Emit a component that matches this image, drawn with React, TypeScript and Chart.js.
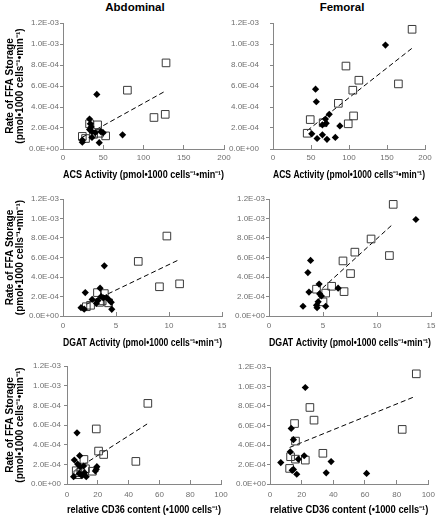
import React, { useEffect, useRef } from "react";
import { Chart, registerables } from "chart.js";

Chart.register(...registerables);

// ---------- tick values ----------
const rateTicks = [0, 2e-4, 4e-4, 6e-4, 8e-4, 1.0e-3, 1.2e-3];
const acsTicks = [0, 50, 100, 150, 200];
const dgatTicks = [0, 5, 10, 15];
const cd36Ticks = [0, 20, 40, 60, 80, 100];

// ---------- axis titles ----------
const rateTitle = ["Rate of FFA Storage", "(pmol\u20221000 cells\u207B\u00B9\u2022min\u207B\u00B9)"];
const acsTitle = "ACS Activity (pmol\u20221000 cells\u207B\u00B9\u2022min\u207B\u00B9)";
const dgatTitle = "DGAT Activity (pmol\u20221000 cells\u207B\u00B9\u2022min\u207B\u00B9)";
const cd36Title = "relative CD36 content (\u20221000 cells\u207B\u00B9)";
const columnTitles = ["Abdominal", "Femoral"];

// ---------- Abdominal / ACS ----------
const abdAcsSqX = [128, 80, 113, 127, 43, 33, 53, 24, 28, 38, 45];
const abdAcsSqY = [8.2e-4, 5.6e-4, 3.0e-4, 3.3e-4, 2.3e-4, 2.4e-4, 1.25e-4, 1.2e-4, 1.0e-4, 1.4e-4, 1.5e-4];
const abdAcsDiaX = [42, 33, 34, 35, 33, 36, 40, 47, 50, 74, 36, 24, 24, 45];
const abdAcsDiaY = [5.2e-4, 2.85e-4, 2.4e-4, 2.1e-4, 1.85e-4, 1.65e-4, 1.55e-4, 1.65e-4, 1.55e-4, 1.35e-4, 1.1e-4, 0.85e-4, 0.65e-4, 0.6e-4];
const abdAcsFitX = [24, 128];
const abdAcsFitY = [1.12e-4, 5.55e-4];

// ---------- Femoral / ACS ----------
const femAcsSqX = [183, 96, 113, 105, 165, 86, 106, 99, 49, 66, 45];
const femAcsSqY = [11.4e-4, 7.9e-4, 6.55e-4, 5.6e-4, 6.2e-4, 4.35e-4, 3.15e-4, 2.4e-4, 2.8e-4, 2.5e-4, 1.5e-4];
const femAcsDiaX = [148, 56, 57, 74, 69, 70, 65, 88, 51, 65, 58, 71, 82];
const femAcsDiaY = [9.9e-4, 5.7e-4, 4.5e-4, 3.3e-4, 2.85e-4, 2.45e-4, 2.3e-4, 2.2e-4, 1.45e-4, 1.35e-4, 1.0e-4, 0.92e-4, 1.1e-4];
const femAcsFitX = [45, 183];
const femAcsFitY = [1.75e-4, 9.6e-4];

// ---------- Abdominal / DGAT ----------
const abdDgatSqX = [9.8, 7.1, 9.1, 11.0, 3.25, 3.9, 2.2, 3.45, 4.3, 2.6, 3.7];
const abdDgatSqY = [8.2e-4, 5.6e-4, 3.0e-4, 3.3e-4, 2.4e-4, 2.3e-4, 0.95e-4, 1.4e-4, 1.35e-4, 1.1e-4, 1.55e-4];
const abdDgatDiaX = [3.9, 2.1, 3.5, 3.6, 2.75, 3.15, 3.8, 1.7, 2.0, 4.55, 4.6, 4.1, 4.35, 3.3];
const abdDgatDiaY = [5.15e-4, 2.4e-4, 2.85e-4, 2.0e-4, 1.7e-4, 1.3e-4, 1.85e-4, 0.85e-4, 0.7e-4, 1.4e-4, 0.68e-4, 1.9e-4, 1.65e-4, 1.6e-4];
const abdDgatFitX = [2.2, 11.0];
const abdDgatFitY = [1.2e-4, 5.8e-4];

// ---------- Femoral / DGAT ----------
const femDgatSqX = [11.5, 9.45, 7.95, 6.85, 11.15, 7.55, 5.8, 6.95, 4.4, 5.25, 5.0];
const femDgatSqY = [11.45e-4, 7.9e-4, 6.55e-4, 5.65e-4, 6.2e-4, 4.35e-4, 3.05e-4, 2.5e-4, 2.75e-4, 2.35e-4, 1.45e-4];
const femDgatDiaX = [13.6, 3.85, 3.6, 3.7, 4.64, 6.4, 4.7, 4.85, 4.55, 4.4, 3.15, 4.45, 5.25];
const femDgatDiaY = [9.9e-4, 5.7e-4, 4.45e-4, 2.45e-4, 3.27e-4, 2.85e-4, 2.25e-4, 2.05e-4, 1.45e-4, 1.1e-4, 1.0e-4, 0.85e-4, 1.0e-4];
const femDgatFitX = [4.4, 11.5];
const femDgatFitY = [2.3e-4, 9.45e-4];

// ---------- Abdominal / CD36 ----------
const abdCd36SqX = [52.5, 19, 20.5, 23.8, 44.7, 11, 16.5, 6, 7, 12, 9];
const abdCd36SqY = [8.2e-4, 5.6e-4, 3.35e-4, 3.0e-4, 2.3e-4, 2.5e-4, 1.3e-4, 1.35e-4, 0.95e-4, 1.55e-4, 1.15e-4];
const abdCd36DiaX = [6.5, 8.2, 4.75, 6.9, 8.6, 10.8, 19.4, 19, 18.4, 4.3, 9.7, 8, 12.5, 11.4];
const abdCd36DiaY = [5.2e-4, 2.88e-4, 2.44e-4, 2.03e-4, 1.76e-4, 1.83e-4, 1.76e-4, 1.5e-4, 1.32e-4, 0.75e-4, 0.85e-4, 1.08e-4, 0.75e-4, 1.15e-4];
const abdCd36FitX = [5.5, 52.5];
const abdCd36FitY = [1.45e-4, 6.15e-4];

// ---------- Femoral / CD36 ----------
const femCd36SqX = [92.4, 83.5, 25.2, 27.8, 15.5, 16.1, 33.4, 13, 16.1, 22.3, 12.4];
const femCd36SqY = [11.3e-4, 5.6e-4, 7.85e-4, 6.55e-4, 6.2e-4, 4.4e-4, 3.15e-4, 2.8e-4, 2.55e-4, 2.45e-4, 1.6e-4];
const femCd36DiaX = [22.3, 13.4, 14.8, 12.8, 21.6, 17.9, 6.8, 38.6, 14.8, 14, 16.9, 35.5, 61];
const femCd36DiaY = [9.9e-4, 5.7e-4, 4.55e-4, 3.3e-4, 2.9e-4, 2.55e-4, 2.2e-4, 2.3e-4, 1.5e-4, 1.4e-4, 1.0e-4, 1.15e-4, 1.08e-4];
const femCd36FitX = [12.4, 92];
const femCd36FitY = [3.75e-4, 9.0e-4];

// ---------- helpers ----------
const TICK_FONT = "'Liberation Sans Narrow', 'Liberation Sans', Arial, sans-serif";
const TITLE_FONT = "'Liberation Sans', Arial, sans-serif";

function sci(v: number): string {
  if (Math.abs(v) < 1e-12) return "0.0E+00";
  const [m, e] = v.toExponential(1).split("e");
  const n = parseInt(e, 10);
  return `${m}E${n < 0 ? "-" : "+"}${String(Math.abs(n)).padStart(2, "0")}`;
}

function zip(xs: number[], ys: number[]) {
  return xs.map((x, i) => ({ x, y: ys[i] }));
}

type PanelDef = {
  id: string;
  left: number; top: number; width: number; height: number; // canvas box (page px)
  area: { L: number; T: number; R: number; B: number }; // plot area (page px)
  xMax: number; xTicks: number[]; xTitle: string; yTitle: boolean;
  xLabelPad: number; yLabelPad: number;
  sqX: number[]; sqY: number[]; diaX: number[]; diaY: number[]; fitX: number[]; fitY: number[];
};

const COL_L = { left: 0, width: 240 };
const COL_R = { left: 222, width: 223 };
const ROW_T = { top: 0, height: 181 };
const ROW_M = { top: 181, height: 168 };
const ROW_B = { top: 349, height: 167 };

const panels: PanelDef[] = [
  { id: "abdAcs", ...COL_L, ...ROW_T, area: { L: 63, T: 23, R: 224, B: 149 }, xMax: 200, xTicks: acsTicks, xTitle: acsTitle, yTitle: true, xLabelPad: 8, yLabelPad: 1,
    sqX: abdAcsSqX, sqY: abdAcsSqY, diaX: abdAcsDiaX, diaY: abdAcsDiaY, fitX: abdAcsFitX, fitY: abdAcsFitY },
  { id: "femAcs", ...COL_R, ...ROW_T, area: { L: 273, T: 23, R: 425, B: 149 }, xMax: 200, xTicks: acsTicks, xTitle: acsTitle, yTitle: false, xLabelPad: 8, yLabelPad: 11,
    sqX: femAcsSqX, sqY: femAcsSqY, diaX: femAcsDiaX, diaY: femAcsDiaY, fitX: femAcsFitX, fitY: femAcsFitY },
  { id: "abdDgat", ...COL_L, ...ROW_M, area: { L: 63, T: 199, R: 222, B: 316 }, xMax: 15, xTicks: dgatTicks, xTitle: dgatTitle, yTitle: true, xLabelPad: 9, yLabelPad: 1,
    sqX: abdDgatSqX, sqY: abdDgatSqY, diaX: abdDgatDiaX, diaY: abdDgatDiaY, fitX: abdDgatFitX, fitY: abdDgatFitY },
  { id: "femDgat", ...COL_R, ...ROW_M, area: { L: 269, T: 199, R: 431, B: 316 }, xMax: 15, xTicks: dgatTicks, xTitle: dgatTitle, yTitle: false, xLabelPad: 9, yLabelPad: 1,
    sqX: femDgatSqX, sqY: femDgatSqY, diaX: femDgatDiaX, diaY: femDgatDiaY, fitX: femDgatFitX, fitY: femDgatFitY },
  { id: "abdCd36", ...COL_L, ...ROW_B, area: { L: 67, T: 366, R: 221, B: 484 }, xMax: 100, xTicks: cd36Ticks, xTitle: cd36Title, yTitle: true, xLabelPad: 10, yLabelPad: 3,
    sqX: abdCd36SqX, sqY: abdCd36SqY, diaX: abdCd36DiaX, diaY: abdCd36DiaY, fitX: abdCd36FitX, fitY: abdCd36FitY },
  { id: "femCd36", ...COL_R, ...ROW_B, area: { L: 270, T: 367, R: 432, B: 484 }, xMax: 100, xTicks: cd36Ticks, xTitle: cd36Title, yTitle: false, xLabelPad: 10, yLabelPad: 1,
    sqX: femCd36SqX, sqY: femCd36SqY, diaX: femCd36DiaX, diaY: femCd36DiaY, fitX: femCd36FitX, fitY: femCd36FitY },
];

const AXIS_COLOR = "#868686";
const TICK_COLOR = "#6f6f6f";

function buildChart(canvas: HTMLCanvasElement, p: PanelDef) {
  const Lc = p.area.L - p.left;
  const Tc = p.area.T - p.top;
  const Rc = p.area.R - p.left;
  const Bc = p.area.B - p.top;
  return new Chart(canvas, {
    type: "scatter",
    data: {
      datasets: [
        {
          label: "diamonds",
          data: zip(p.diaX, p.diaY),
          pointStyle: "rectRot",
          pointRadius: 3.6,
          pointHoverRadius: 3.6,
          backgroundColor: "#000000",
          borderColor: "#000000",
          borderWidth: 0,
        },
        {
          label: "squares",
          data: zip(p.sqX, p.sqY),
          pointStyle: "rect",
          pointRadius: 5.4,
          pointHoverRadius: 5.4,
          backgroundColor: "rgba(255,255,255,0)",
          borderColor: "#3a3a3a",
          borderWidth: 1,
        },
        {
          label: "fit",
          data: zip(p.fitX, p.fitY),
          showLine: true,
          pointRadius: 0,
          pointHoverRadius: 0,
          borderColor: "#000000",
          borderWidth: 1,
          borderDash: [5, 3],
          fill: false,
        },
      ],
    } as any,
    options: {
      responsive: false,
      maintainAspectRatio: false,
      animation: false,
      events: [],
      layout: {
        autoPadding: false,
        padding: { left: 0, top: Tc, right: p.width - Rc, bottom: 0 },
      },
      plugins: {
        legend: { display: false },
        tooltip: { enabled: false },
        title: { display: false },
      },
      scales: {
        x: {
          type: "linear",
          position: "bottom",
          min: 0,
          max: p.xMax,
          afterBuildTicks: (s: any) => {
            s.ticks = p.xTicks.map((v) => ({ value: v }));
          },
          afterFit: (s: any) => {
            s.height = p.height - Bc;
          },
          border: { display: true, color: AXIS_COLOR, width: 1 },
          grid: { display: true, drawOnChartArea: false, drawTicks: true, tickLength: -4, color: AXIS_COLOR, lineWidth: 1 },
          ticks: {
            autoSkip: false,
            maxRotation: 0,
            padding: p.xLabelPad,
            color: TICK_COLOR,
            font: { family: TICK_FONT, size: 8, lineHeight: 1.2 },
          },
          title: {
            display: true,
            text: p.xTitle,
            color: "#000000",
            padding: { top: 0, bottom: 0 },
            font: { family: TITLE_FONT, size: 10, weight: "bold", lineHeight: 1.2 },
          },
        },
        y: {
          type: "linear",
          position: "left",
          min: 0,
          max: 1.2e-3,
          afterBuildTicks: (s: any) => {
            s.ticks = rateTicks.map((v) => ({ value: v }));
          },
          afterFit: (s: any) => {
            s.width = Lc;
          },
          border: { display: true, color: AXIS_COLOR, width: 1 },
          grid: { display: true, drawOnChartArea: false, drawTicks: true, tickLength: 3, color: AXIS_COLOR, lineWidth: 1 },
          ticks: {
            autoSkip: false,
            padding: p.yLabelPad,
            color: TICK_COLOR,
            font: { family: TICK_FONT, size: 8, lineHeight: 1.2 },
            callback: (v: any) => sci(Number(v)),
          },
          title: {
            display: p.yTitle,
            text: rateTitle,
            color: "#000000",
            padding: { top: 5, bottom: 0 },
            font: { family: TITLE_FONT, size: 10, weight: "bold", lineHeight: 1.0 },
          },
        },
      },
    } as any,
  });
}

function Panel({ p }: { p: PanelDef }) {
  const ref = useRef<HTMLCanvasElement | null>(null);
  useEffect(() => {
    if (!ref.current) return;
    const chart = buildChart(ref.current, p);
    return () => chart.destroy();
  }, [p]);
  return (
    <canvas
      ref={ref}
      width={p.width}
      height={p.height}
      style={{ position: "absolute", left: p.left, top: p.top, width: p.width, height: p.height }}
    />
  );
}

function headerStyle(cx: number): React.CSSProperties {
  return {
    position: "absolute",
    left: cx - 60,
    top: 0,
    width: 120,
    textAlign: "center",
    fontFamily: TITLE_FONT,
    fontWeight: "bold",
    fontSize: "11.5px",
    lineHeight: "14px",
    color: "#000",
  };
}

export default function App() {
  return (
    <div style={{ position: "absolute", left: 0, top: 0, width: 445, height: 516, background: "#ffffff", overflow: "hidden" }}>
      <div style={headerStyle(135)}>{columnTitles[0]}</div>
      <div style={headerStyle(342)}>{columnTitles[1]}</div>
      {panels.map((p) => (
        <Panel key={p.id} p={p} />
      ))}
    </div>
  );
}
